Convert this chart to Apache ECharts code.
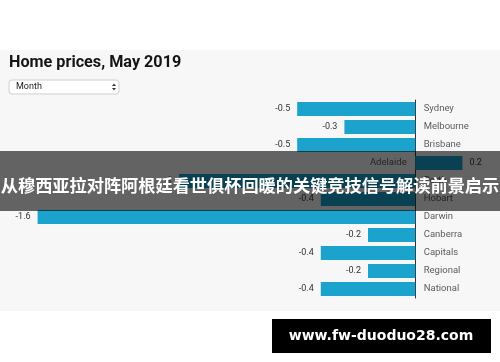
<!DOCTYPE html>
<html><head><meta charset="utf-8">
<script src="https://cdn.jsdelivr.net/npm/echarts@6/dist/echarts.min.js"></script>
<style>html,body{margin:0;padding:0;background:#fff}#c{width:500px;height:362px}</style>
</head><body><div id="c"></div>
<script>
var categories = ['Sydney','Melbourne','Brisbane','Adelaide','Perth','Hobart','Darwin','Canberra','Capitals','Regional','National'];
var values = [-0.5,-0.3,-0.5,0.2,-1.0,-0.4,-1.6,-0.2,-0.4,-0.2,-0.4];
var titleText = 'Home prices, May 2019';
var selectText = 'Month';
var bannerText = '从穆西亚拉对阵阿根廷看世俱杯回暖的关键竞技信号解读前景启示';
var watermarkText = 'www.fw-duoduo28.com';

var chart = echarts.init(document.getElementById('c'), null, {renderer:'canvas'});
var font = 'Roboto, "Helvetica Neue", Arial, sans-serif';
chart.setOption({
  backgroundColor:'#ffffff',
  animation:false,
  title:{text:titleText,left:9,top:55,padding:0,textStyle:{fontFamily:font,fontSize:16.2,fontWeight:'bold',color:'#151515'}},
  grid:{left:14,width:472,top:100,height:198},
  xAxis:{type:'value',min:-1.7,max:0.3,axisLine:{show:false},axisTick:{show:false},axisLabel:{show:false},splitLine:{show:false}},
  yAxis:{type:'category',data:categories,inverse:true,
    axisLine:{show:true,onZero:true,lineStyle:{color:'#333',width:1}},
    axisTick:{show:false},axisLabel:{show:false}},
  graphic:[
    {type:'rect',shape:{x:0,y:50,width:500,height:261},style:{fill:'#f7f7f7'},z:-10},
    {type:'rect',shape:{x:9,y:80,width:110,height:14,r:3},style:{fill:'#ffffff',stroke:'#cfcfcf',lineWidth:1},z:5},
    {type:'text',x:16,y:87,style:{text:selectText,fontFamily:font,fontSize:9,fill:'#222',verticalAlign:'middle'},z:6},
    {type:'polygon',shape:{points:[[112,86],[116,86],[114,83.5]]},style:{fill:'#333'},z:6},
    {type:'polygon',shape:{points:[[112,88],[116,88],[114,90.5]]},style:{fill:'#333'},z:6},
    {type:'rect',shape:{x:0,y:151,width:500,height:60},style:{fill:'rgba(0,0,0,0.6)'},z:100},
    {type:'text',x:250,y:185,style:{text:bannerText,fontFamily:'"Noto Sans CJK SC", sans-serif',fontWeight:'bold',fontSize:17.2,fill:'#ffffff',align:'center',verticalAlign:'middle'},z:101},
    {type:'rect',shape:{x:272,y:319,width:219,height:34},style:{fill:'#000000'},z:100},
    {type:'text',x:381,y:336,style:{text:watermarkText,fontFamily:'"DejaVu Sans", Verdana, sans-serif',fontWeight:'bold',fontSize:14,fill:'#ffffff',align:'center',verticalAlign:'middle'},z:101}
  ],
  series:[
    {type:'bar',barWidth:14,z:2,
      data:values.map(function(v){return {value:v,label:{position:v<0?'left':'right'}};}),
      itemStyle:{color:'#1ba2cd'},
      label:{show:true,distance:7,fontFamily:font,fontSize:9,color:'#333',formatter:function(p){return String(p.value);}}},
    {type:'scatter',symbolSize:1,itemStyle:{color:'rgba(0,0,0,0)'},z:3,
      data:categories.map(function(c,i){return {value:[0,c],label:{position:values[i]<0?'right':'left'}};}),
      label:{show:true,distance:8,fontFamily:font,fontSize:9.5,color:'#333',formatter:function(p){return p.value[1];}}}
  ]
});
</script></body></html>
